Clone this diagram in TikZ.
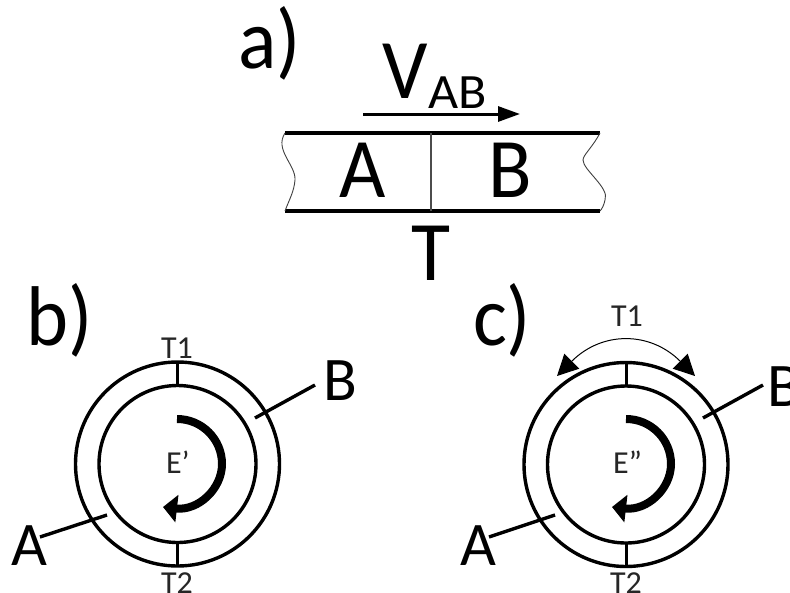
\documentclass[tikz,border=0pt]{standalone}
\usepackage{fontspec}
\setmainfont{Carlito}
\usetikzlibrary{arrows.meta}
\newcommand{\hugefont}{\fontsize{80}{80}\selectfont}
\newcommand{\largerfont}{\fontsize{62}{62}\selectfont}
\newcommand{\subfont}{\fontsize{52}{52}\selectfont}
\newcommand{\tinyfont}{\fontsize{32}{32}\selectfont}
\tikzset{
  x=1pt,y=-1pt,
  biglabel/.style={inner sep=0,outer sep=0,anchor=base,font=\hugefont,yscale=1.06,transform shape},
  sidelabel/.style={inner sep=0,outer sep=0,anchor=base,font=\largerfont},
  midlabel/.style={inner sep=0,outer sep=0,anchor=base,font=\subfont,yscale=0.95,transform shape},
  smalllabel/.style={inner sep=0,outer sep=0,anchor=base,font=\tinyfont,text=black!85},
  ring/.style={circle,draw,line width=3.4pt,inner sep=0,outer sep=0,minimum size=#1},
  tick/.style={line width=3pt},
  leader/.style={line width=3.4pt},
  edgeline/.style={line width=3.2pt},
  torn/.style={line width=0.9pt,black!75},
  bigflow/.style={line width=8pt,-{Triangle[length=14pt,width=27pt]}},
}
\begin{document}
\begin{tikzpicture}
\path[use as bounding box,fill=white] (0,0) rectangle (790,592);
% panel a
\node[biglabel,anchor=base west] (la) at (238,68) {a)};
\node[biglabel] (v) at (405,98) {V};
\node[midlabel,anchor=base west] (ab) at (428,108) {AB};
\coordinate (vs) at (363,114);
\coordinate (ve) at (520,114);
\draw[line width=3pt,-{Triangle[length=22pt,width=15pt]}] (vs) -- (ve);
\coordinate (tl) at (285,133);
\coordinate (tr) at (600,133);
\coordinate (bl) at (285,211);
\coordinate (br) at (600,211);
\coordinate (mt) at (431,133);
\coordinate (mb) at (431,211);
\draw[edgeline] (tl) -- (tr);
\draw[edgeline] (bl) -- (br);
\draw[line width=1.2pt,black!70] (mt) -- (mb);
\draw[torn] (tl) .. controls (274,150) and (296,165) .. (295,180) .. controls (294,192) and (289,200) .. (bl);
\draw[torn] (tr) .. controls (592,148) and (583,155) .. (583,160) .. controls (583,170) and (610,188) .. (605,200) .. controls (604,205) and (602,209) .. (br);
\node[biglabel] (a) at (363,197) {A};
\node[biglabel] (b) at (510,197) {B};
\node[biglabel] (t) at (431,280) {T};
% panel b
\node[biglabel,anchor=base west] (lb) at (27,345) {b)};
\node[ring=204pt] (bo) at (177.5,464) {};
\node[ring=157pt] (bi) at (177.5,464) {};
\draw[tick] (bo.north) -- (bi.north);
\draw[tick] (bi.south) -- (bo.south);
\node[smalllabel] (bt1) at (177,358) {T1};
\node[smalllabel] (bt2) at (177,593) {T2};
\node[smalllabel,anchor=base west] (be) at (166,473) {E’};
\draw[bigflow] (177,419) .. controls (201.85,419) and (222,439.15) .. (222,464) .. controls (222,489) and (198,511) .. (163,507);
\node[sidelabel] (bb) at (340,400) {B};
\node[sidelabel] (ba) at (29,565) {A};
\coordinate (bbs) at (315,385);
\coordinate (bbe) at (255,418);
\coordinate (bas) at (40,537);
\coordinate (bae) at (107,515);
\draw[leader] (bbs) -- (bbe);
\draw[leader] (bas) -- (bae);
% panel c
\node[biglabel,anchor=base west] (lc) at (473,345) {c)};
\node[ring=204pt] (co) at (626,464.5) {};
\node[ring=157pt] (ci) at (626,464.5) {};
\draw[tick] (co.north) -- (ci.north);
\draw[tick] (ci.south) -- (co.south);
\node[smalllabel] (ct1) at (627,326) {T1};
\node[smalllabel] (ct2) at (626,593) {T2};
\node[smalllabel,anchor=base west] (ce) at (613,473) {E”};
\draw[bigflow] (626,419) .. controls (650.85,419) and (671,439.15) .. (671,464) .. controls (671,489) and (647,511) .. (612,507);
\node[sidelabel] (cb) at (784,406) {B};
\node[sidelabel] (ca) at (478,565) {A};
\coordinate (cbs) at (763,385);
\coordinate (cbe) at (703,418);
\coordinate (cas) at (489,537);
\coordinate (cae) at (555,515);
\draw[leader] (cbs) -- (cbe);
\draw[leader] (cas) -- (cae);
\coordinate (al) at (557,376);
\coordinate (ar) at (695,376);
\draw[line width=1pt,{Triangle[length=21pt,width=21pt]}-{Triangle[length=21pt,width=21pt]}] (al) .. controls (602,331) and (650,331) .. (ar);
\end{tikzpicture}
\end{document}
